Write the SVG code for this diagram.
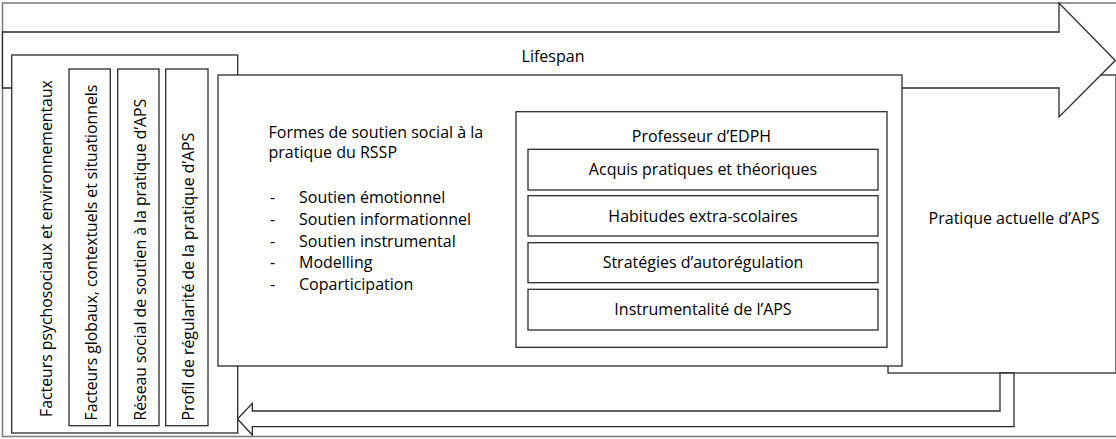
<svg xmlns="http://www.w3.org/2000/svg" width="1116" height="439" viewBox="0 0 1116 439">
<style>
.frame{fill:#fff;stroke:#7f7f7f;stroke-width:1.6}
.box{fill:#fff;stroke:#2b2b2b;stroke-width:1.3}
.arrow{fill:#fff;stroke:#2b2b2b;stroke-width:1.3;stroke-linejoin:miter}
text{font-family:"Open Sans","Noto Sans","Liberation Sans",sans-serif;font-size:16px;fill:#000}
.v{font-size:15.8px}
.c{text-anchor:middle}
</style>
<rect class="frame" x="2.5" y="3" width="1130" height="433.5"/>
<g id="pratique-actuelle">
<rect class="box" x="888" y="75" width="228" height="298"/>
<text x="1014" y="224" class="c">Pratique actuelle d’APS</text>
</g>
<g id="connectors">
<polygon id="lifespan-arrow" class="arrow" points="2.5,32 1059,32 1059,3 1115.3,60.5 1059,117 1059,88 2.5,88"/>
<polygon id="feedback-arrow" class="arrow" points="237.5,419 252.3,403.3 252.3,411 1000,411 1000,373 1014,373 1014,426.7 252.3,426.7 252.3,435"/>
</g>
<g id="lifespan-label">
<text x="553" y="62" class="c">Lifespan</text>
</g>
<g id="facteurs-psychosociaux">
<rect class="box" x="11.7" y="55" width="226" height="378"/>
<text class="v" transform="translate(51.5,417) rotate(-90)">Facteurs psychosociaux et environnementaux</text>
</g>
<g id="facteurs-globaux">
<rect class="box" x="69" y="69" width="41.3" height="356.7"/>
<text class="v" transform="translate(97,420.5) rotate(-90)">Facteurs globaux, contextuels et situationnels</text>
</g>
<g id="reseau-social">
<rect class="box" x="117.7" y="69" width="41.3" height="356.7"/>
<text class="v" transform="translate(145.5,420.5) rotate(-90)">Réseau social de soutien à la pratique d’APS</text>
</g>
<g id="profil-regularite">
<rect class="box" x="165.7" y="69" width="42.3" height="356.7"/>
<text class="v" transform="translate(194,420.5) rotate(-90)">Profil de régularité de la pratique d’APS</text>
</g>
<g id="formes-soutien">
<rect class="box" x="218" y="75" width="684" height="291"/>
<text x="268.5" y="138">Formes de soutien social à la</text>
<text x="268.5" y="158">pratique du RSSP</text>
<text x="270" y="203.3">-</text><text x="299" y="203.3">Soutien émotionnel</text>
<text x="270" y="225">-</text><text x="299" y="225">Soutien informationnel</text>
<text x="270" y="246.7">-</text><text x="299" y="246.7">Soutien instrumental</text>
<text x="270" y="268.3">-</text><text x="299" y="268.3">Modelling</text>
<text x="270" y="290">-</text><text x="299" y="290">Coparticipation</text>
</g>
<g id="professeur">
<rect class="box" x="516" y="111.7" width="371" height="235.6"/>
<text x="701.5" y="142" class="c">Professeur d’EDPH</text>
</g>
<g id="acquis">
<rect class="box" x="528" y="149.3" width="350" height="40.7"/>
<text x="703" y="175" class="c">Acquis pratiques et théoriques</text>
</g>
<g id="habitudes">
<rect class="box" x="528" y="195.7" width="350" height="40.3"/>
<text x="703" y="221.5" class="c">Habitudes extra-scolaires</text>
</g>
<g id="strategies">
<rect class="box" x="528" y="242.7" width="350" height="40"/>
<text x="703" y="268.3" class="c">Stratégies d’autorégulation</text>
</g>
<g id="instrumentalite">
<rect class="box" x="528" y="289.3" width="350" height="40.7"/>
<text x="703" y="315" class="c">Instrumentalité de l’APS</text>
</g>
</svg>
